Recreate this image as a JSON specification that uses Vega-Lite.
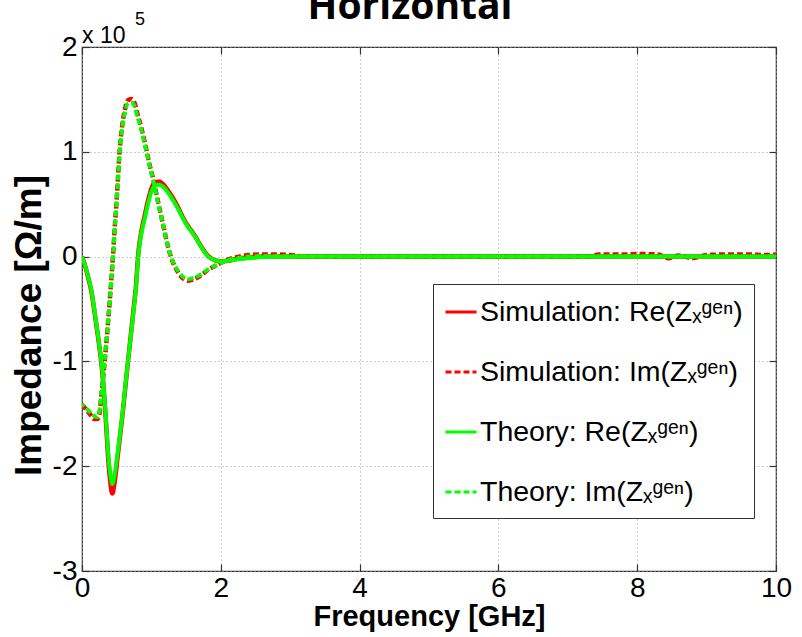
{
  "$schema": "https://vega.github.io/schema/vega-lite/v6.json",
  "width": 694,
  "height": 524,
  "autosize": "none",
  "padding": {"left": 82, "top": 47, "right": 26, "bottom": 66},
  "background": "white",
  "title": {
    "text": "Horizontal",
    "font": "Open Sans",
    "fontSize": 39,
    "fontWeight": "bold",
    "color": "black",
    "anchor": "middle",
    "frame": "group",
    "baseline": "alphabetic",
    "offset": 0,
    "dy": 47,
    "dx": -19
  },
  "config": {
    "view": {"stroke": "#333333", "strokeWidth": 1.2},
    "axis": {
      "labelFont": "Liberation Sans",
      "labelFontSize": 28,
      "labelColor": "black",
      "labelFlush": false,
      "titleFont": "Liberation Sans",
      "titleFontSize": 29,
      "titleFontWeight": "bold",
      "titleColor": "black",
      "domain": false,
      "tickColor": "#333333",
      "tickWidth": 1.2,
      "tickSize": -7,
      "gridColor": "#9a9a9a",
      "gridDash": [1, 3],
      "gridWidth": 1,
      "gridOpacity": 1
    },
    "legend": {
      "orient": "none",
      "legendX": 351,
      "legendY": 237,
      "strokeColor": "#333333",
      "fillColor": "white",
      "padding": 11,
      "symbolType": "stroke",
      "symbolSize": 961,
      "symbolStrokeWidth": 3,
      "labelFont": "Liberation Sans",
      "labelFontSize": 28.5,
      "labelColor": "black",
      "labelLimit": 500,
      "labelOffset": 2,
      "rowPadding": 28
    }
  },
  "data": {
    "values": [
      {"f": 0, "z": 0, "s": "Theory: Re(Zₓᵍᵉⁿ)"},
      {"f": 0.05, "z": -10000, "s": "Theory: Re(Zₓᵍᵉⁿ)"},
      {"f": 0.1, "z": -22000, "s": "Theory: Re(Zₓᵍᵉⁿ)"},
      {"f": 0.134, "z": -32000, "s": "Theory: Re(Zₓᵍᵉⁿ)"},
      {"f": 0.17, "z": -47000, "s": "Theory: Re(Zₓᵍᵉⁿ)"},
      {"f": 0.206, "z": -64000, "s": "Theory: Re(Zₓᵍᵉⁿ)"},
      {"f": 0.24, "z": -80000, "s": "Theory: Re(Zₓᵍᵉⁿ)"},
      {"f": 0.278, "z": -100000, "s": "Theory: Re(Zₓᵍᵉⁿ)"},
      {"f": 0.3, "z": -114000, "s": "Theory: Re(Zₓᵍᵉⁿ)"},
      {"f": 0.326, "z": -137000, "s": "Theory: Re(Zₓᵍᵉⁿ)"},
      {"f": 0.35, "z": -160000, "s": "Theory: Re(Zₓᵍᵉⁿ)"},
      {"f": 0.374, "z": -185000, "s": "Theory: Re(Zₓᵍᵉⁿ)"},
      {"f": 0.4, "z": -203000, "s": "Theory: Re(Zₓᵍᵉⁿ)"},
      {"f": 0.437, "z": -217000, "s": "Theory: Re(Zₓᵍᵉⁿ)"},
      {"f": 0.47, "z": -208000, "s": "Theory: Re(Zₓᵍᵉⁿ)"},
      {"f": 0.508, "z": -190000, "s": "Theory: Re(Zₓᵍᵉⁿ)"},
      {"f": 0.55, "z": -168000, "s": "Theory: Re(Zₓᵍᵉⁿ)"},
      {"f": 0.59, "z": -146000, "s": "Theory: Re(Zₓᵍᵉⁿ)"},
      {"f": 0.63, "z": -120000, "s": "Theory: Re(Zₓᵍᵉⁿ)"},
      {"f": 0.663, "z": -100000, "s": "Theory: Re(Zₓᵍᵉⁿ)"},
      {"f": 0.7, "z": -78000, "s": "Theory: Re(Zₓᵍᵉⁿ)"},
      {"f": 0.735, "z": -57000, "s": "Theory: Re(Zₓᵍᵉⁿ)"},
      {"f": 0.78, "z": -28000, "s": "Theory: Re(Zₓᵍᵉⁿ)"},
      {"f": 0.81, "z": 0, "s": "Theory: Re(Zₓᵍᵉⁿ)"},
      {"f": 0.85, "z": 20000, "s": "Theory: Re(Zₓᵍᵉⁿ)"},
      {"f": 0.9, "z": 35000, "s": "Theory: Re(Zₓᵍᵉⁿ)"},
      {"f": 0.95, "z": 50000, "s": "Theory: Re(Zₓᵍᵉⁿ)"},
      {"f": 1.0, "z": 62000, "s": "Theory: Re(Zₓᵍᵉⁿ)"},
      {"f": 1.05, "z": 67500, "s": "Theory: Re(Zₓᵍᵉⁿ)"},
      {"f": 1.11, "z": 68500, "s": "Theory: Re(Zₓᵍᵉⁿ)"},
      {"f": 1.17, "z": 66500, "s": "Theory: Re(Zₓᵍᵉⁿ)"},
      {"f": 1.25, "z": 60000, "s": "Theory: Re(Zₓᵍᵉⁿ)"},
      {"f": 1.3, "z": 55000, "s": "Theory: Re(Zₓᵍᵉⁿ)"},
      {"f": 1.38, "z": 46000, "s": "Theory: Re(Zₓᵍᵉⁿ)"},
      {"f": 1.45, "z": 37000, "s": "Theory: Re(Zₓᵍᵉⁿ)"},
      {"f": 1.51, "z": 30000, "s": "Theory: Re(Zₓᵍᵉⁿ)"},
      {"f": 1.62, "z": 20000, "s": "Theory: Re(Zₓᵍᵉⁿ)"},
      {"f": 1.72, "z": 9000, "s": "Theory: Re(Zₓᵍᵉⁿ)"},
      {"f": 1.82, "z": 0, "s": "Theory: Re(Zₓᵍᵉⁿ)"},
      {"f": 1.9, "z": -3000, "s": "Theory: Re(Zₓᵍᵉⁿ)"},
      {"f": 2.0, "z": -4500, "s": "Theory: Re(Zₓᵍᵉⁿ)"},
      {"f": 2.1, "z": -4000, "s": "Theory: Re(Zₓᵍᵉⁿ)"},
      {"f": 2.2, "z": -3000, "s": "Theory: Re(Zₓᵍᵉⁿ)"},
      {"f": 2.4, "z": -1500, "s": "Theory: Re(Zₓᵍᵉⁿ)"},
      {"f": 2.6, "z": -500, "s": "Theory: Re(Zₓᵍᵉⁿ)"},
      {"f": 3.0, "z": 0, "s": "Theory: Re(Zₓᵍᵉⁿ)"},
      {"f": 10.0, "z": 0, "s": "Theory: Re(Zₓᵍᵉⁿ)"},

      {"f": 0, "z": -141000, "s": "Theory: Im(Zₓᵍᵉⁿ)"},
      {"f": 0.05, "z": -144000, "s": "Theory: Im(Zₓᵍᵉⁿ)"},
      {"f": 0.11, "z": -148000, "s": "Theory: Im(Zₓᵍᵉⁿ)"},
      {"f": 0.18, "z": -152000, "s": "Theory: Im(Zₓᵍᵉⁿ)"},
      {"f": 0.22, "z": -153000, "s": "Theory: Im(Zₓᵍᵉⁿ)"},
      {"f": 0.25, "z": -148000, "s": "Theory: Im(Zₓᵍᵉⁿ)"},
      {"f": 0.28, "z": -130000, "s": "Theory: Im(Zₓᵍᵉⁿ)"},
      {"f": 0.326, "z": -100000, "s": "Theory: Im(Zₓᵍᵉⁿ)"},
      {"f": 0.35, "z": -82000, "s": "Theory: Im(Zₓᵍᵉⁿ)"},
      {"f": 0.374, "z": -64000, "s": "Theory: Im(Zₓᵍᵉⁿ)"},
      {"f": 0.4, "z": -42000, "s": "Theory: Im(Zₓᵍᵉⁿ)"},
      {"f": 0.42, "z": -25000, "s": "Theory: Im(Zₓᵍᵉⁿ)"},
      {"f": 0.447, "z": 0, "s": "Theory: Im(Zₓᵍᵉⁿ)"},
      {"f": 0.47, "z": 25000, "s": "Theory: Im(Zₓᵍᵉⁿ)"},
      {"f": 0.495, "z": 48000, "s": "Theory: Im(Zₓᵍᵉⁿ)"},
      {"f": 0.52, "z": 75000, "s": "Theory: Im(Zₓᵍᵉⁿ)"},
      {"f": 0.543, "z": 100000, "s": "Theory: Im(Zₓᵍᵉⁿ)"},
      {"f": 0.57, "z": 118000, "s": "Theory: Im(Zₓᵍᵉⁿ)"},
      {"f": 0.59, "z": 127000, "s": "Theory: Im(Zₓᵍᵉⁿ)"},
      {"f": 0.62, "z": 138000, "s": "Theory: Im(Zₓᵍᵉⁿ)"},
      {"f": 0.66, "z": 146000, "s": "Theory: Im(Zₓᵍᵉⁿ)"},
      {"f": 0.71, "z": 147000, "s": "Theory: Im(Zₓᵍᵉⁿ)"},
      {"f": 0.76, "z": 143000, "s": "Theory: Im(Zₓᵍᵉⁿ)"},
      {"f": 0.8, "z": 133000, "s": "Theory: Im(Zₓᵍᵉⁿ)"},
      {"f": 0.83, "z": 127000, "s": "Theory: Im(Zₓᵍᵉⁿ)"},
      {"f": 0.88, "z": 114000, "s": "Theory: Im(Zₓᵍᵉⁿ)"},
      {"f": 0.93, "z": 100000, "s": "Theory: Im(Zₓᵍᵉⁿ)"},
      {"f": 0.98, "z": 85000, "s": "Theory: Im(Zₓᵍᵉⁿ)"},
      {"f": 1.03, "z": 72000, "s": "Theory: Im(Zₓᵍᵉⁿ)"},
      {"f": 1.1, "z": 50000, "s": "Theory: Im(Zₓᵍᵉⁿ)"},
      {"f": 1.17, "z": 30000, "s": "Theory: Im(Zₓᵍᵉⁿ)"},
      {"f": 1.23, "z": 12000, "s": "Theory: Im(Zₓᵍᵉⁿ)"},
      {"f": 1.28, "z": 0, "s": "Theory: Im(Zₓᵍᵉⁿ)"},
      {"f": 1.34, "z": -9000, "s": "Theory: Im(Zₓᵍᵉⁿ)"},
      {"f": 1.39, "z": -14400, "s": "Theory: Im(Zₓᵍᵉⁿ)"},
      {"f": 1.45, "z": -19000, "s": "Theory: Im(Zₓᵍᵉⁿ)"},
      {"f": 1.53, "z": -21500, "s": "Theory: Im(Zₓᵍᵉⁿ)"},
      {"f": 1.6, "z": -20500, "s": "Theory: Im(Zₓᵍᵉⁿ)"},
      {"f": 1.7, "z": -17500, "s": "Theory: Im(Zₓᵍᵉⁿ)"},
      {"f": 1.8, "z": -13000, "s": "Theory: Im(Zₓᵍᵉⁿ)"},
      {"f": 1.94, "z": -8000, "s": "Theory: Im(Zₓᵍᵉⁿ)"},
      {"f": 2.08, "z": -4000, "s": "Theory: Im(Zₓᵍᵉⁿ)"},
      {"f": 2.23, "z": -1600, "s": "Theory: Im(Zₓᵍᵉⁿ)"},
      {"f": 2.4, "z": 0, "s": "Theory: Im(Zₓᵍᵉⁿ)"},
      {"f": 2.6, "z": 500, "s": "Theory: Im(Zₓᵍᵉⁿ)"},
      {"f": 3.0, "z": 0, "s": "Theory: Im(Zₓᵍᵉⁿ)"},
      {"f": 10.0, "z": 0, "s": "Theory: Im(Zₓᵍᵉⁿ)"},

      {"f": 0, "z": 0, "s": "Simulation: Re(Zₓᵍᵉⁿ)"},
      {"f": 0.05, "z": -10000, "s": "Simulation: Re(Zₓᵍᵉⁿ)"},
      {"f": 0.1, "z": -23000, "s": "Simulation: Re(Zₓᵍᵉⁿ)"},
      {"f": 0.134, "z": -33000, "s": "Simulation: Re(Zₓᵍᵉⁿ)"},
      {"f": 0.17, "z": -48000, "s": "Simulation: Re(Zₓᵍᵉⁿ)"},
      {"f": 0.206, "z": -65000, "s": "Simulation: Re(Zₓᵍᵉⁿ)"},
      {"f": 0.24, "z": -81000, "s": "Simulation: Re(Zₓᵍᵉⁿ)"},
      {"f": 0.278, "z": -101000, "s": "Simulation: Re(Zₓᵍᵉⁿ)"},
      {"f": 0.3, "z": -116000, "s": "Simulation: Re(Zₓᵍᵉⁿ)"},
      {"f": 0.326, "z": -139000, "s": "Simulation: Re(Zₓᵍᵉⁿ)"},
      {"f": 0.35, "z": -163000, "s": "Simulation: Re(Zₓᵍᵉⁿ)"},
      {"f": 0.374, "z": -189000, "s": "Simulation: Re(Zₓᵍᵉⁿ)"},
      {"f": 0.4, "z": -210000, "s": "Simulation: Re(Zₓᵍᵉⁿ)"},
      {"f": 0.437, "z": -226000, "s": "Simulation: Re(Zₓᵍᵉⁿ)"},
      {"f": 0.47, "z": -215000, "s": "Simulation: Re(Zₓᵍᵉⁿ)"},
      {"f": 0.508, "z": -194000, "s": "Simulation: Re(Zₓᵍᵉⁿ)"},
      {"f": 0.55, "z": -170000, "s": "Simulation: Re(Zₓᵍᵉⁿ)"},
      {"f": 0.59, "z": -147000, "s": "Simulation: Re(Zₓᵍᵉⁿ)"},
      {"f": 0.63, "z": -121000, "s": "Simulation: Re(Zₓᵍᵉⁿ)"},
      {"f": 0.663, "z": -100000, "s": "Simulation: Re(Zₓᵍᵉⁿ)"},
      {"f": 0.7, "z": -77000, "s": "Simulation: Re(Zₓᵍᵉⁿ)"},
      {"f": 0.735, "z": -55000, "s": "Simulation: Re(Zₓᵍᵉⁿ)"},
      {"f": 0.78, "z": -26000, "s": "Simulation: Re(Zₓᵍᵉⁿ)"},
      {"f": 0.81, "z": 2000, "s": "Simulation: Re(Zₓᵍᵉⁿ)"},
      {"f": 0.85, "z": 22000, "s": "Simulation: Re(Zₓᵍᵉⁿ)"},
      {"f": 0.9, "z": 38000, "s": "Simulation: Re(Zₓᵍᵉⁿ)"},
      {"f": 0.95, "z": 53000, "s": "Simulation: Re(Zₓᵍᵉⁿ)"},
      {"f": 1.0, "z": 65000, "s": "Simulation: Re(Zₓᵍᵉⁿ)"},
      {"f": 1.05, "z": 70500, "s": "Simulation: Re(Zₓᵍᵉⁿ)"},
      {"f": 1.11, "z": 71500, "s": "Simulation: Re(Zₓᵍᵉⁿ)"},
      {"f": 1.17, "z": 69000, "s": "Simulation: Re(Zₓᵍᵉⁿ)"},
      {"f": 1.25, "z": 62000, "s": "Simulation: Re(Zₓᵍᵉⁿ)"},
      {"f": 1.3, "z": 57000, "s": "Simulation: Re(Zₓᵍᵉⁿ)"},
      {"f": 1.38, "z": 47500, "s": "Simulation: Re(Zₓᵍᵉⁿ)"},
      {"f": 1.45, "z": 38000, "s": "Simulation: Re(Zₓᵍᵉⁿ)"},
      {"f": 1.51, "z": 31000, "s": "Simulation: Re(Zₓᵍᵉⁿ)"},
      {"f": 1.62, "z": 20500, "s": "Simulation: Re(Zₓᵍᵉⁿ)"},
      {"f": 1.72, "z": 9500, "s": "Simulation: Re(Zₓᵍᵉⁿ)"},
      {"f": 1.82, "z": 500, "s": "Simulation: Re(Zₓᵍᵉⁿ)"},
      {"f": 1.9, "z": -3000, "s": "Simulation: Re(Zₓᵍᵉⁿ)"},
      {"f": 2.0, "z": -4500, "s": "Simulation: Re(Zₓᵍᵉⁿ)"},
      {"f": 2.1, "z": -4000, "s": "Simulation: Re(Zₓᵍᵉⁿ)"},
      {"f": 2.2, "z": -2500, "s": "Simulation: Re(Zₓᵍᵉⁿ)"},
      {"f": 2.4, "z": -1000, "s": "Simulation: Re(Zₓᵍᵉⁿ)"},
      {"f": 2.6, "z": 0, "s": "Simulation: Re(Zₓᵍᵉⁿ)"},
      {"f": 3.0, "z": 0, "s": "Simulation: Re(Zₓᵍᵉⁿ)"},
      {"f": 10.0, "z": 0, "s": "Simulation: Re(Zₓᵍᵉⁿ)"},

      {"f": 0, "z": -141000, "s": "Simulation: Im(Zₓᵍᵉⁿ)"},
      {"f": 0.05, "z": -145000, "s": "Simulation: Im(Zₓᵍᵉⁿ)"},
      {"f": 0.11, "z": -150000, "s": "Simulation: Im(Zₓᵍᵉⁿ)"},
      {"f": 0.18, "z": -155000, "s": "Simulation: Im(Zₓᵍᵉⁿ)"},
      {"f": 0.22, "z": -155000, "s": "Simulation: Im(Zₓᵍᵉⁿ)"},
      {"f": 0.25, "z": -151000, "s": "Simulation: Im(Zₓᵍᵉⁿ)"},
      {"f": 0.28, "z": -131000, "s": "Simulation: Im(Zₓᵍᵉⁿ)"},
      {"f": 0.326, "z": -101000, "s": "Simulation: Im(Zₓᵍᵉⁿ)"},
      {"f": 0.35, "z": -83000, "s": "Simulation: Im(Zₓᵍᵉⁿ)"},
      {"f": 0.374, "z": -64000, "s": "Simulation: Im(Zₓᵍᵉⁿ)"},
      {"f": 0.4, "z": -42000, "s": "Simulation: Im(Zₓᵍᵉⁿ)"},
      {"f": 0.42, "z": -24000, "s": "Simulation: Im(Zₓᵍᵉⁿ)"},
      {"f": 0.447, "z": 1000, "s": "Simulation: Im(Zₓᵍᵉⁿ)"},
      {"f": 0.47, "z": 26000, "s": "Simulation: Im(Zₓᵍᵉⁿ)"},
      {"f": 0.495, "z": 50000, "s": "Simulation: Im(Zₓᵍᵉⁿ)"},
      {"f": 0.52, "z": 77000, "s": "Simulation: Im(Zₓᵍᵉⁿ)"},
      {"f": 0.543, "z": 102000, "s": "Simulation: Im(Zₓᵍᵉⁿ)"},
      {"f": 0.57, "z": 120000, "s": "Simulation: Im(Zₓᵍᵉⁿ)"},
      {"f": 0.59, "z": 130000, "s": "Simulation: Im(Zₓᵍᵉⁿ)"},
      {"f": 0.62, "z": 141000, "s": "Simulation: Im(Zₓᵍᵉⁿ)"},
      {"f": 0.66, "z": 149000, "s": "Simulation: Im(Zₓᵍᵉⁿ)"},
      {"f": 0.71, "z": 150500, "s": "Simulation: Im(Zₓᵍᵉⁿ)"},
      {"f": 0.76, "z": 146000, "s": "Simulation: Im(Zₓᵍᵉⁿ)"},
      {"f": 0.8, "z": 136000, "s": "Simulation: Im(Zₓᵍᵉⁿ)"},
      {"f": 0.83, "z": 129000, "s": "Simulation: Im(Zₓᵍᵉⁿ)"},
      {"f": 0.88, "z": 116000, "s": "Simulation: Im(Zₓᵍᵉⁿ)"},
      {"f": 0.93, "z": 101000, "s": "Simulation: Im(Zₓᵍᵉⁿ)"},
      {"f": 0.98, "z": 86000, "s": "Simulation: Im(Zₓᵍᵉⁿ)"},
      {"f": 1.03, "z": 73000, "s": "Simulation: Im(Zₓᵍᵉⁿ)"},
      {"f": 1.1, "z": 51000, "s": "Simulation: Im(Zₓᵍᵉⁿ)"},
      {"f": 1.17, "z": 30000, "s": "Simulation: Im(Zₓᵍᵉⁿ)"},
      {"f": 1.23, "z": 12000, "s": "Simulation: Im(Zₓᵍᵉⁿ)"},
      {"f": 1.28, "z": 0, "s": "Simulation: Im(Zₓᵍᵉⁿ)"},
      {"f": 1.34, "z": -10000, "s": "Simulation: Im(Zₓᵍᵉⁿ)"},
      {"f": 1.39, "z": -15500, "s": "Simulation: Im(Zₓᵍᵉⁿ)"},
      {"f": 1.45, "z": -20500, "s": "Simulation: Im(Zₓᵍᵉⁿ)"},
      {"f": 1.53, "z": -23000, "s": "Simulation: Im(Zₓᵍᵉⁿ)"},
      {"f": 1.6, "z": -22000, "s": "Simulation: Im(Zₓᵍᵉⁿ)"},
      {"f": 1.7, "z": -18500, "s": "Simulation: Im(Zₓᵍᵉⁿ)"},
      {"f": 1.8, "z": -13500, "s": "Simulation: Im(Zₓᵍᵉⁿ)"},
      {"f": 1.94, "z": -8000, "s": "Simulation: Im(Zₓᵍᵉⁿ)"},
      {"f": 2.08, "z": -3500, "s": "Simulation: Im(Zₓᵍᵉⁿ)"},
      {"f": 2.23, "z": -500, "s": "Simulation: Im(Zₓᵍᵉⁿ)"},
      {"f": 2.4, "z": 1500, "s": "Simulation: Im(Zₓᵍᵉⁿ)"},
      {"f": 2.6, "z": 2000, "s": "Simulation: Im(Zₓᵍᵉⁿ)"},
      {"f": 2.8, "z": 2000, "s": "Simulation: Im(Zₓᵍᵉⁿ)"},
      {"f": 3.0, "z": 1500, "s": "Simulation: Im(Zₓᵍᵉⁿ)"},
      {"f": 3.2, "z": 0, "s": "Simulation: Im(Zₓᵍᵉⁿ)"},
      {"f": 7.3, "z": 0, "s": "Simulation: Im(Zₓᵍᵉⁿ)"},
      {"f": 7.45, "z": 2000, "s": "Simulation: Im(Zₓᵍᵉⁿ)"},
      {"f": 7.8, "z": 2000, "s": "Simulation: Im(Zₓᵍᵉⁿ)"},
      {"f": 8.0, "z": 2500, "s": "Simulation: Im(Zₓᵍᵉⁿ)"},
      {"f": 8.3, "z": 2000, "s": "Simulation: Im(Zₓᵍᵉⁿ)"},
      {"f": 8.45, "z": -1500, "s": "Simulation: Im(Zₓᵍᵉⁿ)"},
      {"f": 8.6, "z": 1000, "s": "Simulation: Im(Zₓᵍᵉⁿ)"},
      {"f": 8.8, "z": -1500, "s": "Simulation: Im(Zₓᵍᵉⁿ)"},
      {"f": 9.0, "z": 1500, "s": "Simulation: Im(Zₓᵍᵉⁿ)"},
      {"f": 9.3, "z": 2000, "s": "Simulation: Im(Zₓᵍᵉⁿ)"},
      {"f": 9.6, "z": 2000, "s": "Simulation: Im(Zₓᵍᵉⁿ)"},
      {"f": 9.85, "z": 1500, "s": "Simulation: Im(Zₓᵍᵉⁿ)"},
      {"f": 10.0, "z": 2000, "s": "Simulation: Im(Zₓᵍᵉⁿ)"}
    ]
  },
  "encoding": {
    "x": {"field": "f", "type": "quantitative", "scale": {"domain": [0, 10], "nice": false, "zero": false}},
    "y": {"field": "z", "type": "quantitative", "scale": {"domain": [-300000, 200000], "nice": false, "zero": false}},
    "color": {
      "field": "s",
      "type": "nominal",
      "title": null,
      "scale": {
        "domain": ["Simulation: Re(Zₓᵍᵉⁿ)", "Simulation: Im(Zₓᵍᵉⁿ)", "Theory: Re(Zₓᵍᵉⁿ)", "Theory: Im(Zₓᵍᵉⁿ)"],
        "range": ["#ff0000", "#ff0000", "#00ff00", "#00ff00"]
      }
    },
    "strokeDash": {
      "field": "s",
      "type": "nominal",
      "title": null,
      "scale": {
        "domain": ["Simulation: Re(Zₓᵍᵉⁿ)", "Simulation: Im(Zₓᵍᵉⁿ)", "Theory: Re(Zₓᵍᵉⁿ)", "Theory: Im(Zₓᵍᵉⁿ)"],
        "range": [[1, 0], [6, 3], [1, 0], [6, 3]]
      }
    }
  },
  "layer": [
    {
      "transform": [{"filter": "indexof(datum.s, 'Simulation') == 0"}],
      "mark": {"type": "line", "strokeWidth": 4.5, "interpolate": "monotone", "clip": true},
      "encoding": {
        "x": {
          "field": "f", "type": "quantitative",
          "title": "Frequency [GHz]",
          "axis": {"values": [0, 2, 4, 6, 8, 10], "labelPadding": 10, "titlePadding": 0, "grid": true, "orient": "bottom"}
        },
        "y": {
          "field": "z", "type": "quantitative",
          "title": "Impedance [Ω/m]",
          "axis": {"values": [-300000, -200000, -100000, 0, 100000, 200000], "labelExpr": "datum.value / 100000", "labelPadding": 12, "titlePadding": 4, "titleFontSize": 37, "titleY": 278, "grid": true, "orient": "left"}
        }
      }
    },
    {
      "transform": [{"filter": "indexof(datum.s, 'Theory') == 0"}],
      "mark": {"type": "line", "strokeWidth": 4, "interpolate": "monotone", "strokeDashOffset": 3, "clip": true},
      "encoding": {
        "x": {
          "field": "f", "type": "quantitative", "title": null,
          "axis": {"values": [0, 2, 4, 6, 8, 10], "labels": false, "grid": false, "orient": "top"}
        },
        "y": {
          "field": "z", "type": "quantitative", "title": null,
          "axis": {"values": [-300000, -200000, -100000, 0, 100000, 200000], "labels": false, "grid": false, "orient": "right"}
        }
      }
    },
    {
      "data": {"values": [{"f": 0, "z": 200000, "t": "x 10"}]},
      "mark": {"type": "text", "font": "Liberation Sans", "fontSize": 23, "align": "left", "baseline": "alphabetic", "dx": 0, "dy": -4, "color": "black"},
      "encoding": {
        "x": {"field": "f", "type": "quantitative", "axis": null},
        "y": {"field": "z", "type": "quantitative", "axis": null},
        "text": {"field": "t"},
        "color": null,
        "strokeDash": null
      }
    },
    {
      "data": {"values": [{"f": 0, "z": 200000, "t": "5"}]},
      "mark": {"type": "text", "font": "Liberation Sans", "fontSize": 18, "align": "left", "baseline": "alphabetic", "dx": 53, "dy": -22, "color": "black"},
      "encoding": {
        "x": {"field": "f", "type": "quantitative", "axis": null},
        "y": {"field": "z", "type": "quantitative", "axis": null},
        "text": {"field": "t"},
        "color": null,
        "strokeDash": null
      }
    }
  ],
  "resolve": {"axis": {"x": "independent", "y": "independent"}}
}
